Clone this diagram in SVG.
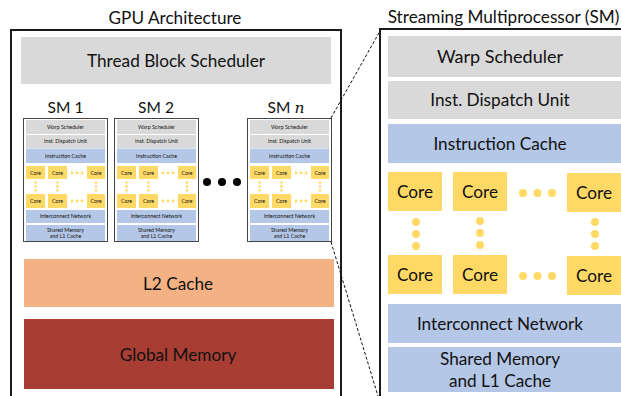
<svg xmlns="http://www.w3.org/2000/svg" width="621" height="396" viewBox="0 0 621 396">
<defs>
<style>
text{font-family:Lato,"Liberation Sans",sans-serif;fill:#111;text-anchor:middle}
.gray{fill:#d9d9d9}
.blue{fill:#b4c7e7}
.core{fill:#ffd966}
.ydot{fill:#ffd966}
.frame{fill:none;stroke:#1a1a1a;stroke-width:2}
.smframe{fill:#fff;stroke:#444;stroke-width:1}
.s{font-size:5.3px}
.b{font-size:17.2px}
.dash{fill:none;stroke:#111;stroke-width:1;stroke-dasharray:3 2}
</style>
<g id="smSmall">
<rect class="smframe" x="0.5" y="0.5" width="84" height="123"/>
<rect class="gray" x="3" y="2" width="79" height="14"/>
<text class="s" x="42.5" y="10.9">Warp Scheduler</text>
<rect class="gray" x="3" y="17" width="79" height="13"/>
<text class="s" x="42.5" y="25.4">Inst. Dispatch Unit</text>
<rect class="blue" x="3" y="30.5" width="79" height="14.5"/>
<text class="s" x="42.5" y="39.7">Instruction Cache</text>
<rect class="core" x="3" y="48" width="19" height="13"/>
<rect class="core" x="25" y="48" width="19" height="13"/>
<rect class="core" x="64" y="48" width="18" height="13"/>
<text class="s" x="12.5" y="56.5">Core</text>
<text class="s" x="34.5" y="56.5">Core</text>
<text class="s" x="73" y="56.5">Core</text>
<circle class="ydot" cx="49" cy="55" r="1.4"/><circle class="ydot" cx="54" cy="55" r="1.4"/><circle class="ydot" cx="59" cy="55" r="1.4"/>
<circle class="ydot" cx="12.5" cy="64.5" r="1.3"/><circle class="ydot" cx="12.5" cy="68.5" r="1.3"/><circle class="ydot" cx="12.5" cy="72.5" r="1.3"/>
<circle class="ydot" cx="34.5" cy="64.5" r="1.3"/><circle class="ydot" cx="34.5" cy="68.5" r="1.3"/><circle class="ydot" cx="34.5" cy="72.5" r="1.3"/>
<circle class="ydot" cx="73" cy="64.5" r="1.3"/><circle class="ydot" cx="73" cy="68.5" r="1.3"/><circle class="ydot" cx="73" cy="72.5" r="1.3"/>
<rect class="core" x="3" y="76" width="19" height="14"/>
<rect class="core" x="25" y="76" width="19" height="14"/>
<rect class="core" x="64" y="76" width="18" height="14"/>
<text class="s" x="12.5" y="85">Core</text>
<text class="s" x="34.5" y="85">Core</text>
<text class="s" x="73" y="85">Core</text>
<circle class="ydot" cx="49" cy="83" r="1.4"/><circle class="ydot" cx="54" cy="83" r="1.4"/><circle class="ydot" cx="59" cy="83" r="1.4"/>
<rect class="blue" x="3" y="92" width="79" height="13"/>
<text class="s" x="42.5" y="100.4">Interconnect Network</text>
<rect class="blue" x="3" y="107" width="79" height="16"/>
<text class="s" x="42.5" y="114">Shared Memory</text>
<text class="s" x="42.5" y="120.4">and L1 Cache</text>
</g>
</defs>

<g id="gpu">
<text x="175" y="24" style="font-size:17.2px">GPU Architecture</text>
<rect class="frame" x="11" y="30" width="330" height="380"/>
</g>

<g id="thread-block-scheduler">
<rect class="gray" x="21" y="37" width="310" height="47"/>
<text class="b" x="176" y="66.8">Thread Block Scheduler</text>
</g>

<g id="sm1">
<text x="65.5" y="113" style="font-size:15.5px">SM 1</text>
<use href="#smSmall" x="23" y="118"/>
</g>
<g id="sm2">
<text x="156" y="113" style="font-size:15.5px">SM 2</text>
<use href="#smSmall" x="114" y="118"/>
</g>
<g id="sm-dots">
<circle cx="207" cy="182" r="4" fill="#000"/>
<circle cx="222" cy="182" r="4" fill="#000"/>
<circle cx="237" cy="182" r="4" fill="#000"/>
</g>
<g id="smn">
<text x="286" y="113" style="font-size:15.5px">SM <tspan style="font-family:'DejaVu Serif','Liberation Serif',serif;font-style:italic">n</tspan></text>
<use href="#smSmall" x="247" y="118"/>
</g>

<g id="l2-cache">
<rect x="24" y="259" width="310" height="48" fill="#f4b183"/>
<text class="b" x="178" y="289.5">L2 Cache</text>
</g>
<g id="global-memory">
<rect x="24" y="319" width="310" height="70" fill="#a83e33"/>
<text class="b" x="178" y="360.5">Global Memory</text>
</g>

<g id="connectors">
<line class="dash" x1="331" y1="118" x2="380" y2="31"/>
<line class="dash" x1="331" y1="242" x2="378" y2="396"/>
</g>

<g id="sm-detail">
<text x="503.5" y="23" style="font-size:17.2px">Streaming Multiprocessor (SM)</text>
<rect class="frame" x="380" y="29" width="260" height="380"/>
<g id="warp-scheduler">
<rect class="gray" x="388" y="36" width="240" height="41"/>
<text x="500" y="63" style="font-size:18px">Warp Scheduler</text>
</g>
<g id="dispatch-unit">
<rect class="gray" x="388" y="81" width="240" height="38"/>
<text class="b" x="500" y="106.2">Inst. Dispatch Unit</text>
</g>
<g id="instruction-cache">
<rect class="blue" x="388" y="124" width="240" height="39"/>
<text class="b" x="500" y="149.7">Instruction Cache</text>
</g>
<g id="cores">
<rect class="core" x="388" y="172" width="54" height="39"/>
<rect class="core" x="453" y="172" width="54" height="39"/>
<rect class="core" x="567" y="173" width="60" height="39"/>
<text class="b" x="415" y="197.7">Core</text>
<text class="b" x="480" y="197.7">Core</text>
<text class="b" x="594" y="198.7">Core</text>
<circle class="ydot" cx="523" cy="193" r="4"/><circle class="ydot" cx="537.5" cy="193" r="4"/><circle class="ydot" cx="552" cy="193" r="4"/>
<circle class="ydot" cx="416" cy="222" r="4"/><circle class="ydot" cx="416" cy="234" r="4"/><circle class="ydot" cx="416" cy="246" r="4"/>
<circle class="ydot" cx="480" cy="221" r="4"/><circle class="ydot" cx="480" cy="233" r="4"/><circle class="ydot" cx="480" cy="245" r="4"/>
<circle class="ydot" cx="595" cy="222" r="4"/><circle class="ydot" cx="595" cy="234" r="4"/><circle class="ydot" cx="595" cy="246" r="4"/>
<rect class="core" x="388" y="255" width="54" height="39"/>
<rect class="core" x="453" y="255" width="54" height="39"/>
<rect class="core" x="567" y="256" width="60" height="39"/>
<text class="b" x="415" y="280.7">Core</text>
<text class="b" x="480" y="280.7">Core</text>
<text class="b" x="594" y="281.7">Core</text>
<circle class="ydot" cx="523" cy="276" r="4"/><circle class="ydot" cx="537.5" cy="276" r="4"/><circle class="ydot" cx="552" cy="276" r="4"/>
</g>
<g id="interconnect">
<rect class="blue" x="388" y="304" width="240" height="39"/>
<text class="b" x="500" y="329.7">Interconnect Network</text>
</g>
<g id="shared-memory">
<rect class="blue" x="388" y="347" width="240" height="45"/>
<text class="b" x="500" y="365">Shared Memory</text>
<text class="b" x="500" y="386.5">and L1 Cache</text>
</g>
</g>
</svg>
